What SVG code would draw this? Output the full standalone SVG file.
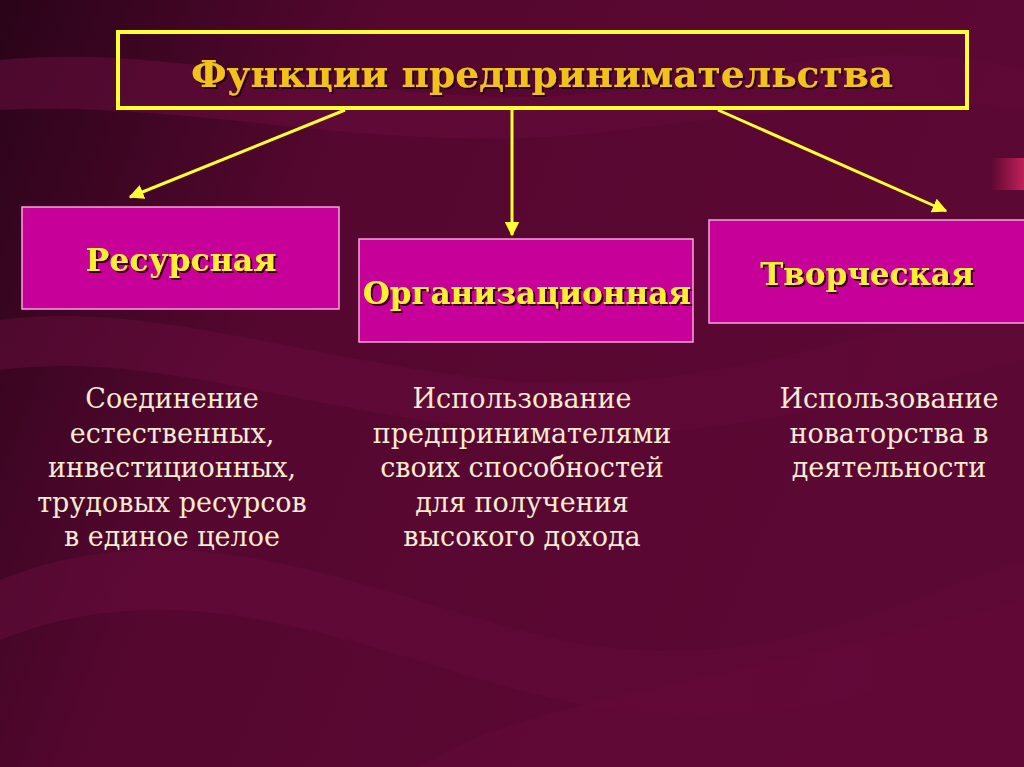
<svg xmlns="http://www.w3.org/2000/svg" width="1024" height="767" viewBox="0 0 1024 767">
<defs>
<linearGradient id="bg" x1="0" y1="0" x2="1" y2="0.3">
<stop offset="0" stop-color="#2a0419"/>
<stop offset="0.35" stop-color="#55072f"/>
<stop offset="1" stop-color="#5c0834"/>
</linearGradient>
<linearGradient id="band" x1="0" y1="0" x2="1" y2="0">
<stop offset="0" stop-color="#7a1048" stop-opacity="0.7"/>
<stop offset="1" stop-color="#6a0a3e" stop-opacity="0.3"/>
</linearGradient>
<linearGradient id="tab" x1="0" y1="0" x2="1" y2="0">
<stop offset="0" stop-color="#5a0830"/>
<stop offset="1" stop-color="#c0205a"/>
</linearGradient>
<filter id="sh" x="-5%" y="-20%" width="110%" height="140%">
<feDropShadow dx="2" dy="2" stdDeviation="0.6" flood-color="#2a0010" flood-opacity="0.9"/>
</filter>
<marker id="ah" viewBox="0 0 10 10" refX="9" refY="5" markerWidth="5" markerHeight="5" orient="auto" markerUnits="strokeWidth">
<path d="M0,0 L10,5 L0,10 z" fill="#ffff33"/>
</marker>
<style>
.box{fill:#c8009a;stroke:#f2a6d8;stroke-width:1.5}
.lbl{font-family:"DejaVu Serif","Liberation Serif",serif;font-weight:bold;fill:#ffef33;text-anchor:middle;filter:url(#sh)}
.body{font-family:"DejaVu Serif","Liberation Serif",serif;font-size:27px;fill:#f6ead2;text-anchor:middle}
.conn{stroke:#ffff33;stroke-width:3;fill:none;marker-end:url(#ah)}
</style>
</defs>
<g id="background">
<rect width="1024" height="767" fill="url(#bg)"/>
<path d="M0,60 C200,40 400,120 620,90 C800,60 900,40 1024,70 L1024,110 C900,90 800,110 620,130 C400,160 200,100 0,110 Z" fill="url(#band)" opacity="0.6"/>
<path d="M0,320 C150,300 300,360 500,380 C700,400 850,330 1024,300 L1024,360 C850,400 700,450 500,430 C300,410 150,350 0,370 Z" fill="url(#band)" opacity="0.5"/>
<path d="M0,580 C200,500 380,600 560,640 C760,680 900,600 1024,560 L1024,640 C900,690 760,740 560,700 C380,660 200,560 0,640 Z" fill="url(#band)" opacity="0.45"/>
<path d="M420,767 C520,700 700,690 1024,600 L1024,767 Z" fill="#6a0a3c" opacity="0.4"/>
<rect x="990" y="158" width="34" height="32" fill="url(#tab)"/>
</g>
<g id="connectors">
<line class="conn" x1="345" y1="110" x2="130" y2="197"/>
<line class="conn" x1="512" y1="110" x2="512" y2="235"/>
<line class="conn" x1="718" y1="110" x2="946" y2="211"/>
</g>
<g id="title">
<rect x="118" y="32" width="849" height="76" fill="none" stroke="#ffff33" stroke-width="4"/>
<text x="542" y="87" class="lbl" font-size="37.5" style="fill:#f2c21e">Функции предпринимательства</text>
</g>
<g id="node-resource">
<rect class="box" x="22" y="207" width="317" height="102"/>
<text x="181" y="271" class="lbl" font-size="31.5">Ресурсная</text>
</g>
<g id="node-org">
<rect class="box" x="359" y="239" width="334" height="103"/>
<text x="527" y="304" class="lbl" font-size="31">Организационная</text>
</g>
<g id="node-creative">
<rect class="box" x="709" y="220" width="318" height="103"/>
<text x="867" y="285" class="lbl" font-size="31">Творческая</text>
</g>
<g id="desc-resource">
<text class="body" x="172" y="408">Соединение</text>
<text class="body" x="172" y="443">естественных,</text>
<text class="body" x="172" y="477">инвестиционных,</text>
<text class="body" x="172" y="512">трудовых ресурсов</text>
<text class="body" x="172" y="546">в единое целое</text>
</g>
<g id="desc-org">
<text class="body" x="522" y="408">Использование</text>
<text class="body" x="522" y="443">предпринимателями</text>
<text class="body" x="522" y="477">своих способностей</text>
<text class="body" x="522" y="512">для получения</text>
<text class="body" x="522" y="546">высокого дохода</text>
</g>
<g id="desc-creative">
<text class="body" x="889" y="408">Использование</text>
<text class="body" x="889" y="443">новаторства в</text>
<text class="body" x="889" y="477">деятельности</text>
</g>
</svg>
